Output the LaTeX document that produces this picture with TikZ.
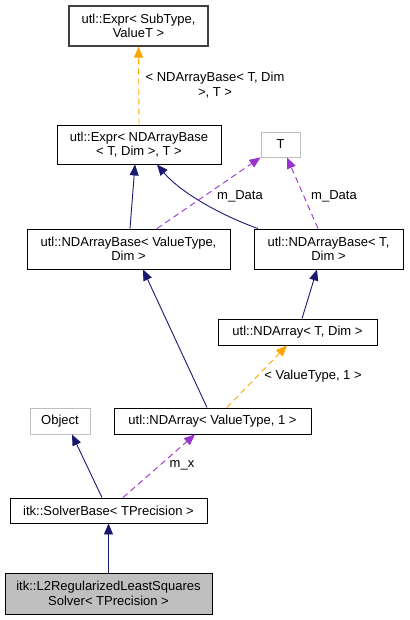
\documentclass[tikz,border=0pt]{standalone}
\usepackage{fontspec}
\setmainfont{Liberation Sans}
\usetikzlibrary{arrows.meta}
\definecolor{navy}{HTML}{191970}
\definecolor{purp}{HTML}{9A32CD}
\definecolor{orng}{HTML}{FFA500}
\definecolor{lgray}{HTML}{BFBFBF}
\definecolor{dgray}{HTML}{404040}
\tikzset{
  box/.style={draw=black, line width=0.9pt, inner sep=0pt, align=center, font=\fontsize{13}{14.5}\selectfont},
  gbox/.style={box, draw=lgray},
  inh/.style={draw=navy, line width=0.9pt, -{Triangle[length=11pt,width=9pt]}},
  usage/.style={draw=purp, line width=0.9pt, dash pattern=on 6pt off 4pt, -{Triangle[length=11pt,width=9pt]}},
  tmpl/.style={draw=orng, line width=0.9pt, dash pattern=on 6pt off 4pt, -{Triangle[length=11pt,width=9pt]}},
  lbl/.style={font=\fontsize{13}{14.5}\selectfont, align=center, inner sep=0pt}
}
\begin{document}
\begin{tikzpicture}[x=1pt,y=-1pt]
\useasboundingbox (0,0) rectangle (409,620);
\node[box, draw=dgray, line width=1.2pt, minimum width=139pt, minimum height=40pt] (expr0) at (138.5,26) {utl::Expr< SubType,\\ValueT >};
\node[box, minimum width=164pt, minimum height=39pt] (expr1) at (139,144.5) {utl::Expr< NDArrayBase\\< T, Dim >, T >};
\node[gbox, minimum width=39pt, minimum height=25pt] (T) at (280.5,144.5) {T};
\node[box, minimum width=203pt, minimum height=40pt] (nabVT) at (128.5,249) {utl::NDArrayBase< ValueType,\\Dim >};
\node[box, minimum width=149pt, minimum height=40pt] (nabT) at (328.5,249) {utl::NDArrayBase< T,\\Dim >};
\node[box, minimum width=159pt, minimum height=26pt] (naT) at (297.5,332) {utl::NDArray< T, Dim >};
\node[gbox, minimum width=60pt, minimum height=26pt] (obj) at (60,421) {Object};
\node[box, minimum width=197pt, minimum height=26pt] (naVT) at (212.5,421) {utl::NDArray< ValueType, 1 >};
\node[box, minimum width=197pt, minimum height=25pt] (solver) at (108.5,510.5) {itk::SolverBase< TPrecision >};
\node[box, fill=lgray, minimum width=207pt, minimum height=41pt] (l2) at (108.5,593.5) {itk::L2RegularizedLeastSquares\\Solver< TPrecision >};

\draw[inh] (l2.north) -- (solver.south);
\draw[inh] ([xshift=-6.5pt]solver.north) -- ([xshift=12pt]obj.south);
\draw[usage] ([xshift=14.5pt]solver.north) -- ([xshift=-17.5pt]naVT.south);
\node[lbl] (mx) at (182,465) {m\_x};
\draw[inh] ([xshift=-5.5pt]naVT.north) -- ([xshift=14.5pt]nabVT.south);
\draw[tmpl] ([xshift=14.5pt]naVT.north) -- ([xshift=-10.5pt]naT.south);
\node[lbl] (l1) at (313,376) {< ValueType, 1 >};
\draw[inh] ([xshift=4.5pt]naT.north) -- ([xshift=-11.5pt]nabT.south);
\draw[inh] ([xshift=1.5pt]nabVT.north) -- ([xshift=-4pt]expr1.south);
\draw[inh] ([xshift=-70.5pt]nabT.north) .. controls (220,215) and (180,192) .. ([xshift=18pt]expr1.south);
\draw[usage] ([xshift=28.5pt]nabVT.north) -- (T.south west);
\node[lbl] (md1) at (240,196) {m\_Data};
\draw[usage] ([xshift=-10.5pt]nabT.north) -- ([xshift=6.5pt]T.south);
\node[lbl] (md2) at (334,196) {m\_Data};
\draw[tmpl] (expr1.north) -- (expr0.south);
\node[lbl] (l2lbl) at (215,85) {< NDArrayBase< T, Dim\\>, T >};
\end{tikzpicture}
\end{document}
